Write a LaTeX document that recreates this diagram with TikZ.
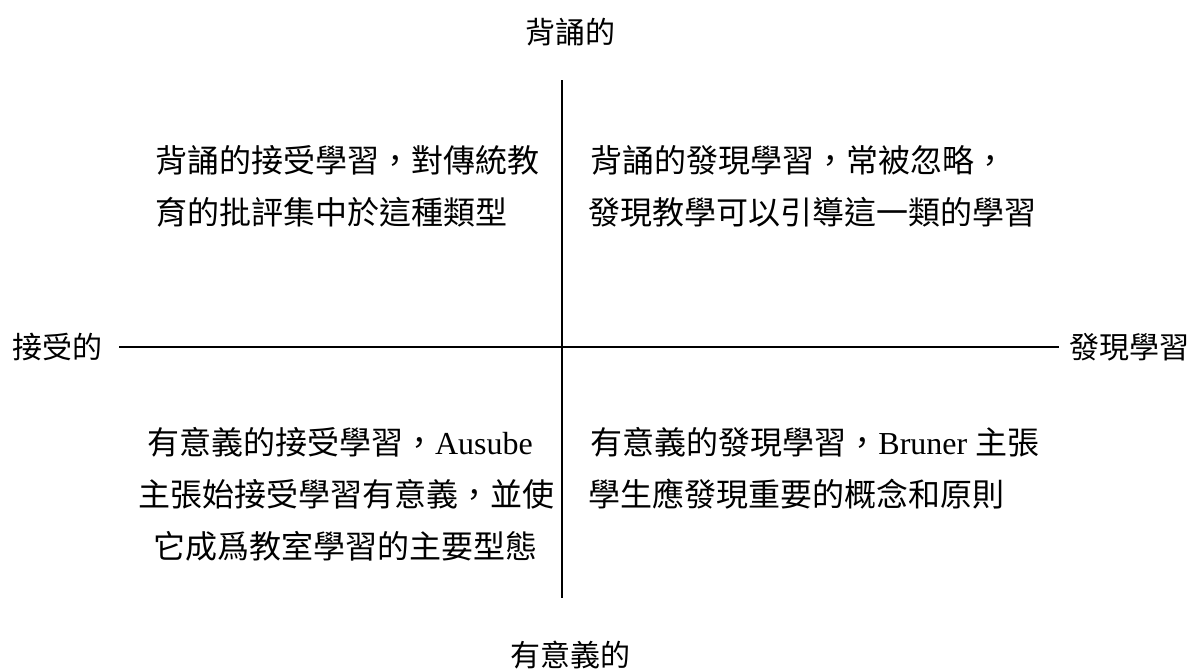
\documentclass[tikz,border=0pt]{standalone}
\usepackage{fontspec}
\setmainfont{Liberation Serif}
\newfontfamily\zhfont{Noto Sans CJK TC}
\newcommand{\zh}[1]{{\zhfont #1}}
\begin{document}
\begin{tikzpicture}[x=0.5pt,y=-0.5pt,
  txt/.style={inner sep=0pt, font=\fontsize{16}{26}\selectfont},
  lbl/.style={inner sep=0pt, font=\zhfont\fontsize{15}{18}\selectfont},
  axis/.style={line width=1pt, draw=black}]
\useasboundingbox (0,0) rectangle (1197,670);
% axis labels
\node[lbl] (top) at (570,32) {背誦的};
\node[lbl] (bottom) at (570,655) {有意義的};
\node[lbl, anchor=west] (left) at (12,347) {接受的};
\node[lbl, anchor=east] (right) at (1190,347) {發現學習};
% axes
\coordinate (vtop) at (562,80);
\coordinate (vbot) at (562,598);
\coordinate (hleft) at (119,347);
\coordinate (hright) at (1059,347);
\draw[axis] (vtop) -- (vbot);
\draw[axis] (hleft) -- (hright);
% top-left
\node[txt, anchor=west] (tl1) at (155,160) {\zh{背誦的接受學習，對傳統教}};
\node[txt, anchor=west] (tl2) at (155,212) {\zh{育的批評集中於這種類型}};
% top-right
\node[txt, anchor=west] (tr1) at (590,160) {\zh{背誦的發現學習，常被忽略，}};
\node[txt, anchor=west] (tr2) at (588,212) {\zh{發現教學可以引導這一類的學習}};
% bottom-left
\node[txt] (bl1) at (340,442) {\zh{有意義的接受學習，}Ausube};
\node[txt] (bl2) at (346,494) {\zh{主張始接受學習有意義，並使}};
\node[txt] (bl3) at (345,546) {\zh{它成爲教室學習的主要型態}};
% bottom-right
\node[txt, anchor=west] (br1) at (590,442) {\zh{有意義的發現學習，}Bruner \zh{主張}};
\node[txt, anchor=west] (br2) at (588,494) {\zh{學生應發現重要的概念和原則}};
\end{tikzpicture}
\end{document}
